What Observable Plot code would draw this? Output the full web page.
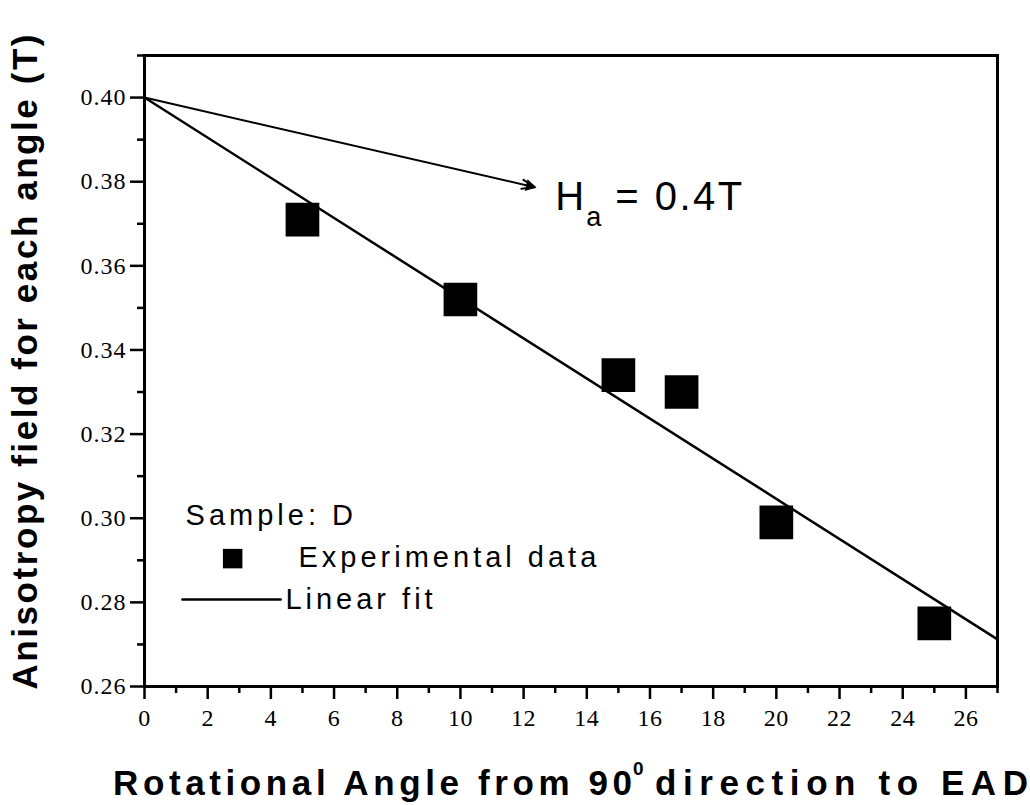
<!DOCTYPE html>
<html>
<head>
<meta charset="utf-8">
<script src="https://cdn.jsdelivr.net/npm/d3@7"></script>
<script src="https://cdn.jsdelivr.net/npm/@observablehq/plot@0.6"></script>
<style>
  html, body { margin: 0; padding: 0; background: #fff; }
  #chart svg { display: block; }
</style>
</head>
<body>
<div id="chart"></div>
<script>
// ---- data ----
const angles = [5, 10, 15, 17, 20, 25];                    // rotational angle (deg)
const fieldT = [0.371, 0.352, 0.334, 0.330, 0.299, 0.275]; // anisotropy field (T)
const fitAngles = [0, 27];
const fitField = [0.400, 0.2712];
const arrowFrom = [0, 0.400];
const arrowTo = [12.35, 0.3787];
const xTickLabels = [0, 2, 4, 6, 8, 10, 12, 14, 16, 18, 20, 22, 24, 26];
const xMinorTicks = [1, 3, 5, 7, 9, 11, 13, 15, 17, 19, 21, 23, 25, 27];
const yTickLabels = [0.26, 0.28, 0.30, 0.32, 0.34, 0.36, 0.38, 0.40];
const yMinorTicks = [0.27, 0.29, 0.31, 0.33, 0.35, 0.37, 0.39, 0.41];
const xTitle = ["Rotational Angle from 90", "0", "direction to EAD"];
const yTitle = "Anisotropy field for each angle (T)";
const legendTitle = "Sample: D";
const legendLabels = ["Experimental data", "Linear fit"];
const annotationText = ["H", "a", "= 0.4T"];

const points = angles.map((a, i) => ({angle: a, field: fieldT[i]}));
const fit = fitAngles.map((a, i) => ({angle: a, field: fitField[i]}));

const sans = "'Liberation Sans', Arial, sans-serif";
const serif = "'Liberation Serif', 'Times New Roman', serif";

const chart = Plot.plot({
  width: 1030,
  height: 805,
  marginLeft: 144,
  marginRight: 33,
  marginTop: 55,
  marginBottom: 119,
  x: {domain: [0, 27]},
  y: {domain: [0.26, 0.41]},
  style: {fontFamily: serif, fontSize: "24px", color: "black", background: "white"},
  marks: [
    // axes: major ticks with labels, minor ticks without
    Plot.axisX({ticks: xTickLabels, tickSize: 13, tickPadding: 9, strokeWidth: 2.5, label: null, tickFormat: d => String(d), fontSize: 24, ariaDescription: "xlabels"}),
    Plot.axisX({ticks: xMinorTicks, tickSize: 7, strokeWidth: 2.5, label: null, tickFormat: () => ""}),
    Plot.axisY({ticks: yTickLabels, tickSize: 14, tickPadding: 4, strokeWidth: 2.5, label: null, tickFormat: d3.format(".2f"), fontSize: 24, ariaDescription: "ylabels"}),
    Plot.axisY({ticks: yMinorTicks, tickSize: 7, strokeWidth: 2.5, label: null, tickFormat: () => ""}),
    Plot.frame({stroke: "black", strokeWidth: 3}),
    // linear fit
    Plot.line(fit, {x: "angle", y: "field", stroke: "black", strokeWidth: 2.5}),
    // experimental data
    Plot.dot(points, {x: "angle", y: "field", symbol: "square", r: 19, fill: "black", stroke: "none"}),
    // annotation arrow + filled head + label
    Plot.arrow([{x1: arrowFrom[0], y1: arrowFrom[1], x2: arrowTo[0], y2: arrowTo[1]}],
      {x1: "x1", y1: "y1", x2: "x2", y2: "y2", stroke: "black", strokeWidth: 2, headLength: 10, headAngle: 40}),
    Plot.dot([arrowTo], {x: () => arrowTo[0] - 0.16, y: () => arrowTo[1] + 0.0003, symbol: "triangle", r: 4.5, rotate: 102.9, fill: "black", stroke: "none"}),
    Plot.text([annotationText[0]], {x: () => 13.0, y: () => 0.3732, text: d => d, textAnchor: "start", lineAnchor: "bottom", fontFamily: sans, fontSize: 40}),
    Plot.text([annotationText[1]], {x: () => 13.0, y: () => 0.3732, text: d => d, dx: 31, dy: 16, textAnchor: "start", lineAnchor: "bottom", fontFamily: sans, fontSize: 27}),
    Plot.text([annotationText[2]], {x: () => 13.0, y: () => 0.3732, text: d => d, dx: 60, textAnchor: "start", lineAnchor: "bottom", fontFamily: sans, fontSize: 40, ariaDescription: "spaced"}),
    // legend
    Plot.text([legendTitle], {x: () => 1.30, y: () => 0.2983, text: d => d, textAnchor: "start", lineAnchor: "bottom", fontFamily: sans, fontSize: 29, ariaDescription: "legend"}),
    Plot.dot([legendLabels[0]], {x: () => 2.79, y: () => 0.2904, symbol: "square", r: 11, fill: "black", stroke: "none"}),
    Plot.text([legendLabels[0]], {x: () => 4.875, y: () => 0.2883, text: d => d, textAnchor: "start", lineAnchor: "bottom", fontFamily: sans, fontSize: 29, ariaDescription: "legend"}),
    Plot.line([[1.20, 0.2807], [4.31, 0.2807]], {stroke: "black", strokeWidth: 2.5}),
    Plot.text([legendLabels[1]], {x: () => 4.46, y: () => 0.2785, text: d => d, textAnchor: "start", lineAnchor: "bottom", fontFamily: sans, fontSize: 29, ariaDescription: "legend"})
  ]
});

document.getElementById("chart").appendChild(chart);

const svg = d3.select(chart);
svg.selectAll('g[aria-description="legend"] text').attr("letter-spacing", "4px");
svg.selectAll('g[aria-description="spaced"] text').attr("letter-spacing", "2.5px");
svg.selectAll('g[aria-description="ylabels"] text').attr("letter-spacing", "1px");
svg.selectAll('g[aria-description="xlabels"] text').attr("letter-spacing", "0.5px");

// x axis title with superscript (three pieces)
function titlePart(x, y, size, text, len) {
  const t = svg.append("text")
    .attr("x", x).attr("y", y)
    .attr("text-anchor", "start")
    .attr("font-family", sans).attr("font-weight", "bold").attr("font-size", size)
    .attr("fill", "black").text(text);
  if (len) t.attr("textLength", len).attr("lengthAdjust", "spacing");
  return t;
}
titlePart(113, 795, 35, xTitle[0], 519);
titlePart(633, 775, 19, xTitle[1]);
titlePart(655, 795, 35, xTitle[2], 373);

// y axis title, rotated
svg.append("text")
  .attr("transform", "translate(37,362) rotate(-90)")
  .attr("text-anchor", "middle")
  .attr("font-family", sans).attr("font-weight", "bold").attr("font-size", 35)
  .attr("fill", "black")
  .attr("textLength", 655).attr("lengthAdjust", "spacing")
  .text(yTitle);
</script>
</body>
</html>
